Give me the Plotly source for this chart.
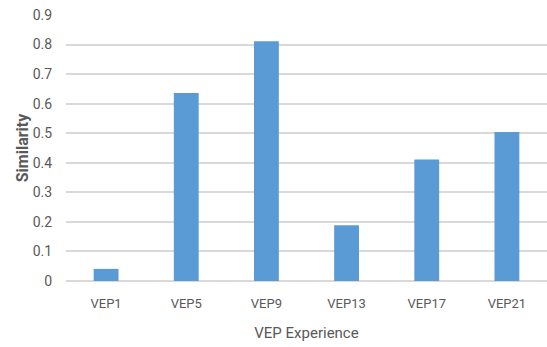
import plotly.graph_objects as go

categories = ["VEP1", "VEP5", "VEP9", "VEP13", "VEP17", "VEP21"]
similarity = [0.041, 0.636, 0.811, 0.189, 0.411, 0.504]
y_ticks = [0, 0.1, 0.2, 0.3, 0.4, 0.5, 0.6, 0.7, 0.8, 0.9]
y_tick_labels = ["0", "0.1", "0.2", "0.3", "0.4", "0.5", "0.6", "0.7", "0.8", "0.9"]

font_family = "Roboto, Arial"
gray = "#595959"

fig = go.Figure(
    go.Bar(
        x=categories,
        y=similarity,
        marker=dict(color="#5b9bd5", line=dict(width=0)),
    )
)

fig.update_layout(
    width=547,
    height=347,
    margin=dict(l=66, r=0, t=15, b=66),
    paper_bgcolor="white",
    plot_bgcolor="white",
    bargap=0.69,
    showlegend=False,
    font=dict(family=font_family, color=gray, size=13),
)

fig.update_xaxes(
    title=dict(text="VEP Experience", font=dict(size=15, color=gray), standoff=17),
    tickfont=dict(size=13, color=gray),
    ticks="outside",
    ticklen=10,
    tickcolor="rgba(0,0,0,0)",
    showline=False,
    showgrid=False,
)

fig.update_yaxes(
    range=[0, 0.9],
    tickvals=y_ticks,
    ticktext=y_tick_labels,
    tickfont=dict(size=14, color=gray),
    showgrid=True,
    gridcolor="#d9d9d9",
    gridwidth=1.5,
    zeroline=True,
    zerolinecolor="#d9d9d9",
    zerolinewidth=1.5,
    ticks="outside",
    ticklen=10,
    tickcolor="rgba(0,0,0,0)",
    title=dict(text="<b>Similarity</b>", font=dict(size=16, color=gray), standoff=0),
)

fig.write_html("out.html")
